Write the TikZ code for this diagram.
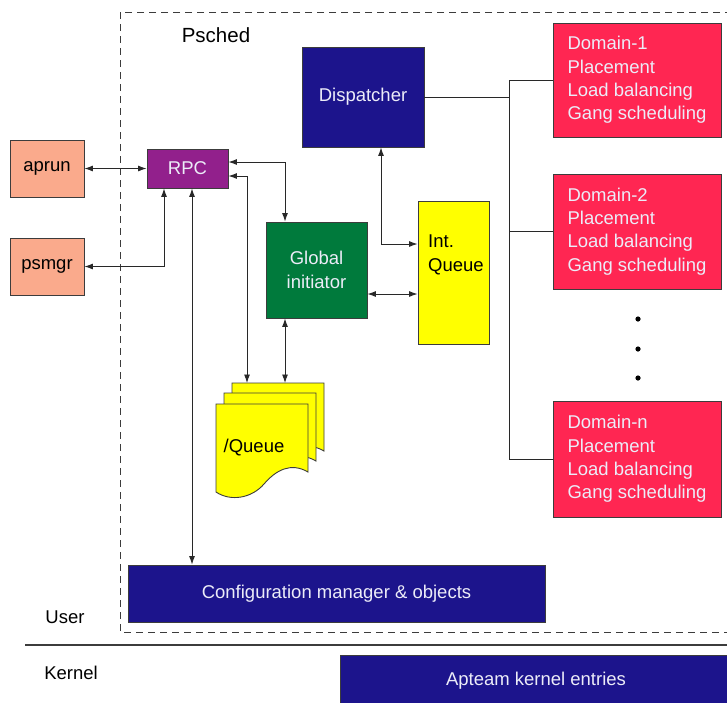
\documentclass[tikz,border=0pt]{standalone}
\usepackage{fontspec}
\setmainfont{Liberation Sans}
\usetikzlibrary{arrows.meta}
\definecolor{navy}{RGB}{28,20,140}
\definecolor{domred}{RGB}{255,38,82}
\definecolor{rpcpurple}{RGB}{146,32,140}
\definecolor{gigreen}{RGB}{0,122,60}
\definecolor{salmon}{RGB}{250,170,140}
\definecolor{qyellow}{RGB}{255,255,0}
\definecolor{lighttext}{RGB}{236,236,248}
\definecolor{edge}{RGB}{60,60,60}
\definecolor{wire}{RGB}{40,40,40}
\tikzset{
  box/.style={draw=edge, line width=0.9pt, inner sep=0pt, anchor=center},
  txt/.style={font=\fontsize{18.5}{23.3}\selectfont},
  wirel/.style={draw=wire, line width=0.9pt},
  arr/.style={wirel, {Latex[length=8.5pt,width=6pt]}-{Latex[length=8.5pt,width=6pt]}},
  pagestyle/.style={fill=qyellow, draw=edge, line width=0.9pt},
}
\newcommand\qpage[2]{%
  \path[pagestyle,shift={(#1,#2)}] (0,0) -- (92,0) -- (92,68)
    .. controls (75,58) and (60,66) .. (48,80)
    .. controls (36,94) and (15,98) .. (0,88) -- cycle;}
\begin{document}
\begin{tikzpicture}[x=1pt,y=-1pt]
\clip (0,0) rectangle (727,702);
\fill[white] (0,0) rectangle (727,702);
% dashed Psched frame
\draw[edge, line width=0.9pt, dash pattern=on 7pt off 5pt] (120,12) rectangle (760,632);
\node[txt, font=\fontsize{20.5}{24}\selectfont] (psched) at (216,35) {Psched};
% boxes
\node[box, fill=navy, text=lighttext, txt, minimum width=122pt, minimum height=100pt] (disp) at (363,97) {Dispatcher};
\node[box, fill=domred, text=lighttext, txt, align=left, minimum width=168pt, minimum height=114pt] (d1) at (637,80) {Domain-1\\Placement\\Load balancing\\Gang scheduling};
\node[box, fill=domred, text=lighttext, txt, align=left, minimum width=168pt, minimum height=115pt] (d2) at (637,231.5) {Domain-2\\Placement\\Load balancing\\Gang scheduling};
\node[box, fill=domred, text=lighttext, txt, align=left, minimum width=168pt, minimum height=116pt] (dn) at (637,459) {Domain-n\\Placement\\Load balancing\\Gang scheduling};
\fill[black] (638,319) circle (2.6pt) (638,349) circle (2.6pt) (638,378) circle (2.6pt);
\node[box, fill=salmon, txt, minimum width=74pt, minimum height=57pt] (aprun) at (47,168.5) {aprun};
\node[box, fill=salmon, txt, minimum width=74pt, minimum height=57pt] (psmgr) at (47,266.5) {psmgr};
\node[box, fill=rpcpurple, text=lighttext, txt, minimum width=81pt, minimum height=39pt] (rpc) at (187.5,168.5) {RPC};
\node[box, fill=gigreen, text=lighttext, txt, align=center, minimum width=101pt, minimum height=96pt] (gi) at (316.5,270) {Global\\initiator};
\node[box, fill=qyellow, minimum width=71pt, minimum height=143pt] (iq) at (453.5,272.5) {};
\node[txt, align=left, anchor=west, inner sep=0pt] (iqt) at (428,255) {Int.\\Queue};
% /Queue stacked pages
\qpage{232}{383}
\qpage{224}{393}
\qpage{216}{404}
\coordinate (qtop) at (250,383);
\node[txt] (queue) at (254,448) {/Queue};
\node[box, fill=navy, text=lighttext, txt, minimum width=417pt, minimum height=57pt] (cfg) at (336.5,593.5) {Configuration manager \& objects};
\node[box, fill=navy, text=lighttext, txt, minimum width=392pt, minimum height=52pt] (apt) at (536,681) {Apteam kernel entries};
% user / kernel
\draw[edge, line width=2pt] (25,645) -- (727,645);
\node[txt] (user) at (65,617) {User};
\node[txt] (kernel) at (71,673) {Kernel};
% trunk to domains
\coordinate (t) at (509,0);
\draw[wirel] (disp.east) -- (disp.east -| t);
\draw[wirel] (d1.west) -- (d1.west -| t) -- (dn.west -| t) -- (dn.west);
\draw[wirel] (d2.west) -- (d2.west -| t);
% connectors
\draw[arr] (aprun.east) -- (rpc.west);
\coordinate (b0) at (164,266.5);
\draw[arr] (rpc.south -| b0) -- (b0) -- (psmgr.east);
\coordinate (bc) at (192,0);
\draw[arr] (rpc.south -| bc) -- (cfg.north -| bc);
\coordinate (b1) at (285,162);
\draw[arr] (rpc.east |- b1) -- (b1) -- (gi.north -| b1);
\coordinate (b2) at (247,176);
\draw[arr] (rpc.east |- b2) -- (b2) -- (qtop -| b2);
\draw[arr] (gi.south -| b1) -- (qtop -| b1);
\coordinate (b3) at (381,244);
\draw[arr] (disp.south -| b3) -- (b3) -- (iq.west |- b3);
\coordinate (b4) at (0,294);
\draw[arr] (gi.east |- b4) -- (iq.west |- b4);
\end{tikzpicture}
\end{document}
